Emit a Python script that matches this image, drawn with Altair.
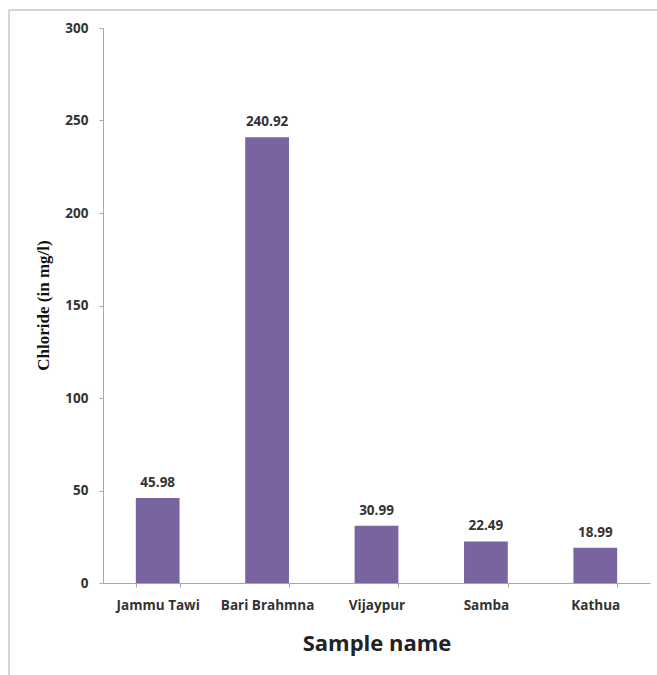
import altair as alt
import pandas as pd

# Chloride concentration per sampling site
samples = ["Jammu Tawi", "Bari Brahmna", "Vijaypur", "Samba", "Kathua"]
chloride = [45.98, 240.92, 30.99, 22.49, 18.99]
y_ticks = [0, 50, 100, 150, 200, 250, 300]

df = pd.DataFrame({"sample": samples, "chloride": chloride})
df["label"] = [f"{v:.2f}" for v in chloride]

BAR = "#7A64A0"
AXIS = "#A6A6A6"
TEXT = "#333333"
FONT = "Open Sans"
FS = 13.5

x_enc = alt.X(
    "sample:N",
    sort=samples,
    scale=alt.Scale(paddingInner=0.6, paddingOuter=0.3),
    axis=alt.Axis(
        title="Sample name",
        titleFont="Open Sans",
        titleFontSize=22,
        titleFontWeight="bold",
        titleColor="#222222",
        titleY=50,
        titleBaseline="top",
        labelAngle=0,
        labelFont=FONT,
        labelFontSize=FS,
        labelFontWeight="bold",
        labelColor=TEXT,
        labelPadding=11,
        tickSize=4,
        tickColor=AXIS,
        domainColor=AXIS,
        tickBand="extent",
    ),
)

y_enc = alt.Y(
    "chloride:Q",
    scale=alt.Scale(domain=[0, 300], nice=False),
    axis=alt.Axis(
        title="Chloride (in mg/l)",
        titleFont="Liberation Serif",
        titleFontSize=17,
        titleFontWeight="bold",
        titleColor="#111111",
        titleAngle=-90,
        titleX=-60,
        titleY=277,
        titleAlign="center",
        titleBaseline="middle",
        values=y_ticks,
        grid=False,
        labelFont=FONT,
        labelFontSize=FS,
        labelFontWeight="bold",
        labelColor=TEXT,
        labelPadding=11,
        tickSize=4,
        tickColor=AXIS,
        domainColor=AXIS,
    ),
)

bars = alt.Chart(df).mark_bar(color=BAR).encode(x=x_enc, y=y_enc)

labels = alt.Chart(df).mark_text(
    font=FONT, fontSize=FS, fontWeight="bold", color=TEXT,
    baseline="alphabetic", dy=-11,
).encode(x=alt.X("sample:N", sort=samples), y="chloride:Q", text="label:N")

# light frame around the whole figure (top and left edges)
frame_top = alt.Chart().mark_rule(color="#C8C8C8", strokeWidth=1.5).encode(
    x=alt.value(-94), x2=alt.value(560), y=alt.value(-18)
)
frame_left = alt.Chart().mark_rule(color="#C8C8C8", strokeWidth=1.5).encode(
    x=alt.value(-94), y=alt.value(-18), y2=alt.value(660)
)

chart = (
    alt.layer(frame_top, frame_left, bars, labels)
    .properties(
        width=547,
        height=555,
        autosize=alt.AutoSizeParams(type="none"),
        padding={"left": 103, "top": 28, "right": 7, "bottom": 92},
        background="white",
    )
    .configure_view(stroke=None)
)

chart.save("out.html", embed_options={"renderer": "svg", "actions": False})
